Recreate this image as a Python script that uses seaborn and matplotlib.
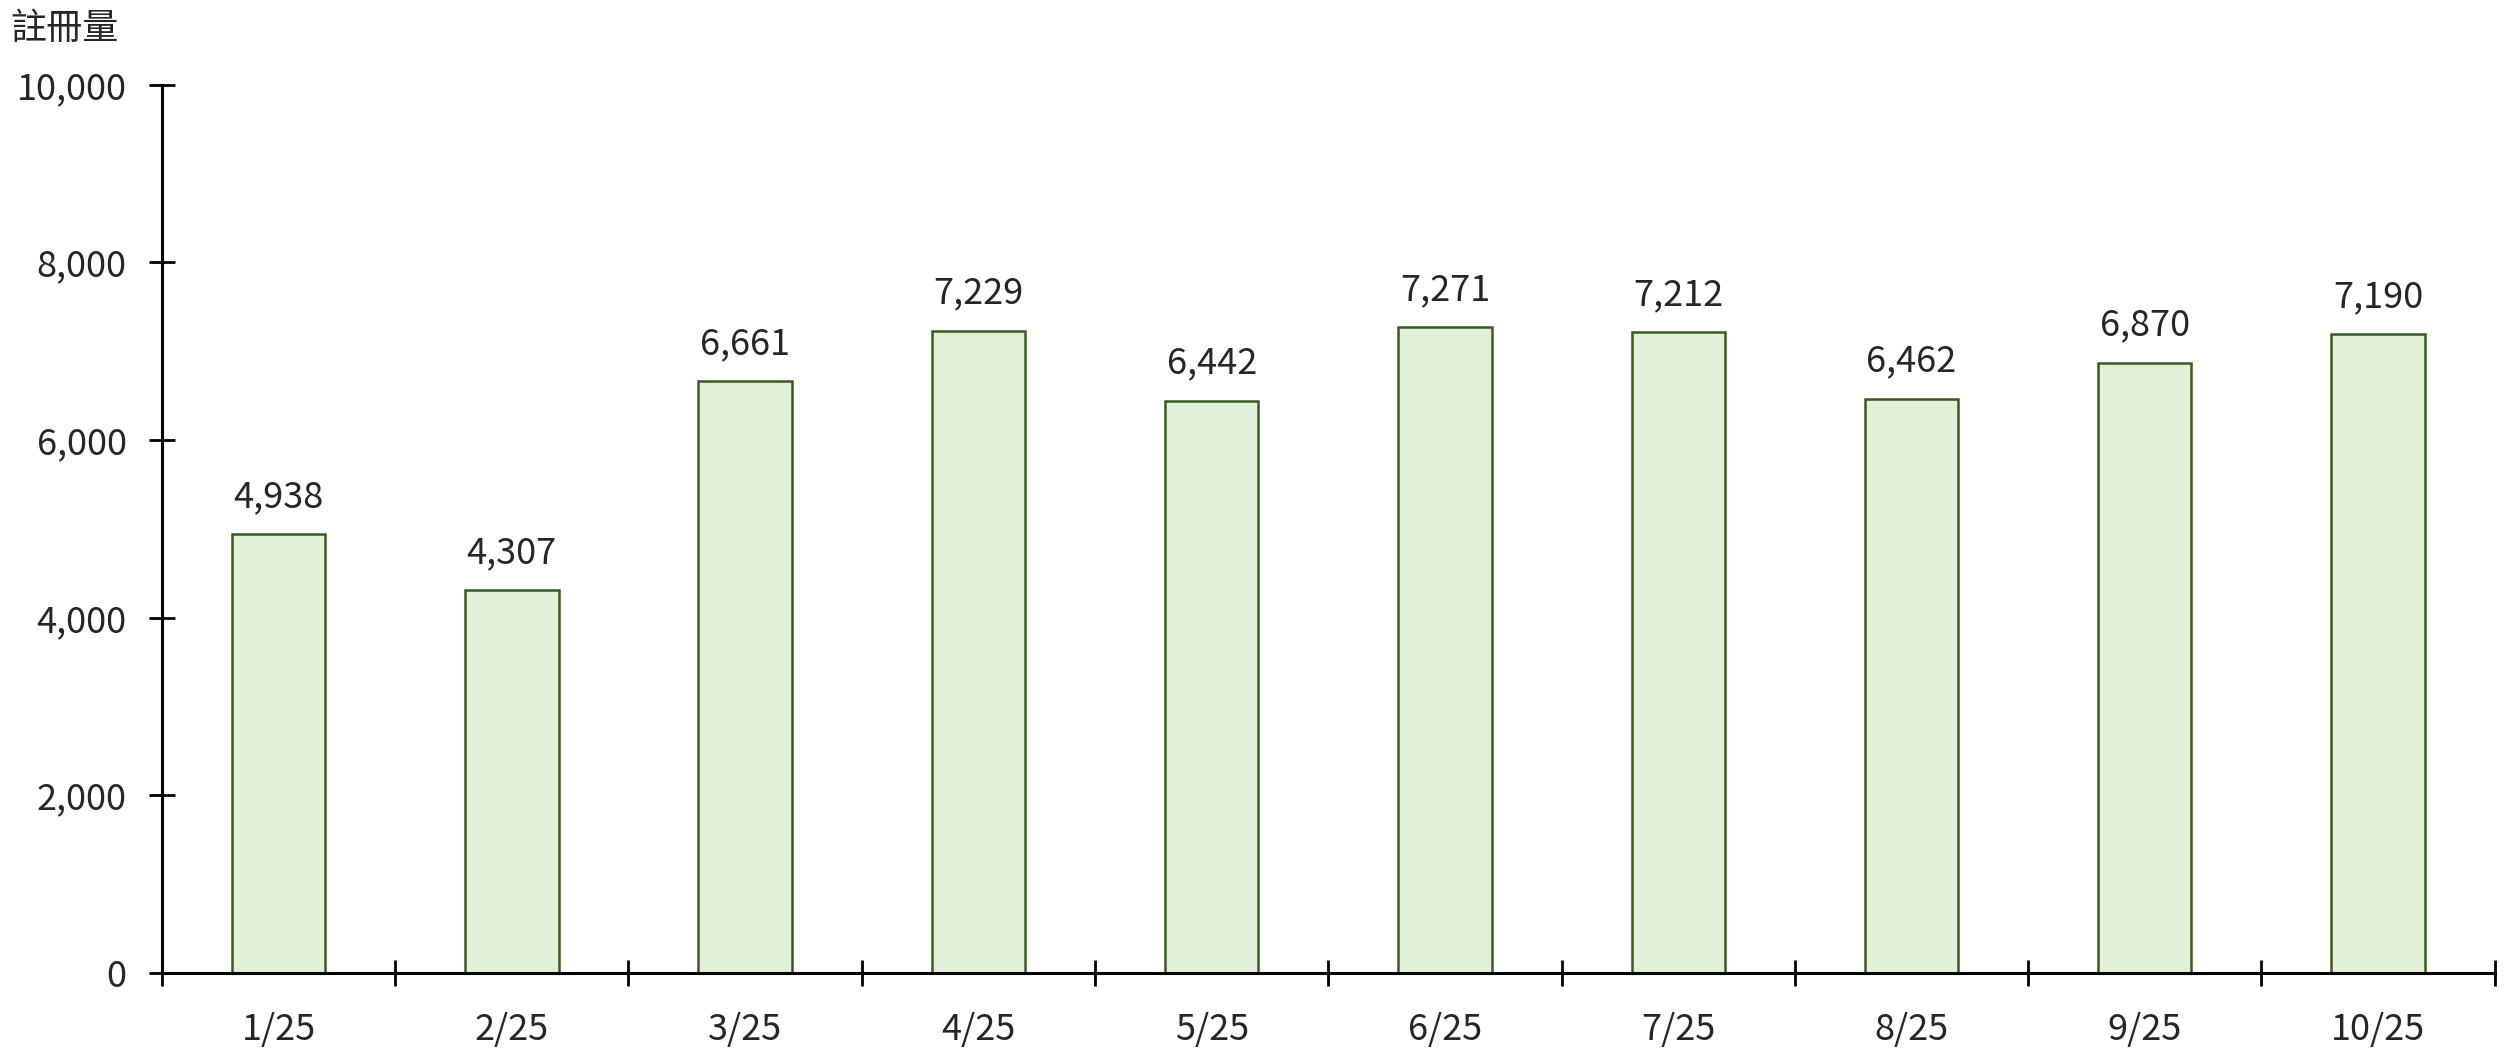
import pandas as pd
import matplotlib.pyplot as plt
import matplotlib.ticker as mticker
import seaborn as sns

# -------------------------------
# 1. DATA
# -------------------------------
months = ['1/25', '2/25', '3/25', '4/25', '5/25', '6/25', '7/25', '8/25', '9/25', '10/25']
registrations = [4938, 4307, 6661, 7229, 6442, 7271, 7212, 6462, 6870, 7190]
y_label = '註冊量'

df = pd.DataFrame({'month': months, 'count': registrations})

# -------------------------------
# 2. STYLE
# -------------------------------
sns.set_style('white')
plt.rcParams['font.family'] = ['Noto Sans CJK TC', 'DejaVu Sans']

fill_color = '#e2efd9'
edge_color = '#3b5a22'
fs = 26

fig = plt.figure(figsize=(25.19, 10.6), dpi=100)
ax = fig.add_axes([0.0643, 0.082, 0.926, 0.838])

sns.barplot(data=df, x='month', y='count', width=0.4, color=fill_color,
            edgecolor=edge_color, linewidth=1.8, saturation=1, ax=ax)

# -------------------------------
# 3. AXES
# -------------------------------
ax.set_xlim(-0.5, len(months) - 0.5)
ax.set_ylim(0, 10000)
ax.set_yticks(range(0, 10001, 2000))
ax.yaxis.set_major_formatter(mticker.FuncFormatter(lambda v, p: f'{int(v):,}'))

# ticks on category boundaries, labels at the centres
ax.set_xticks([i - 0.5 for i in range(len(months) + 1)])
ax.set_xticklabels([])
ax.set_xticks(range(len(months)), minor=True)
ax.set_xticklabels(months, minor=True)
ax.tick_params(axis='x', which='major', bottom=True, direction='inout', length=19, width=2, color='black')
ax.tick_params(axis='x', which='minor', bottom=True, length=0, pad=28, labelsize=fs)
ax.tick_params(axis='y', left=True, direction='inout', length=19, width=2, color='black',
               labelsize=fs, pad=16)

for s in ['top', 'right']:
    ax.spines[s].set_visible(False)
for s in ['left', 'bottom']:
    ax.spines[s].set_linewidth(2.2)
    ax.spines[s].set_color('black')

ax.set_xlabel('')
ax.set_ylabel('')
fig.text(0.004, 0.99, y_label, fontsize=fs, ha='left', va='top')

# value labels
for i, v in enumerate(registrations):
    ax.annotate(f'{v:,}', (i, v), xytext=(0, 14), textcoords='offset points',
                ha='center', va='bottom', fontsize=fs)

plt.savefig('out.png', dpi=100)
